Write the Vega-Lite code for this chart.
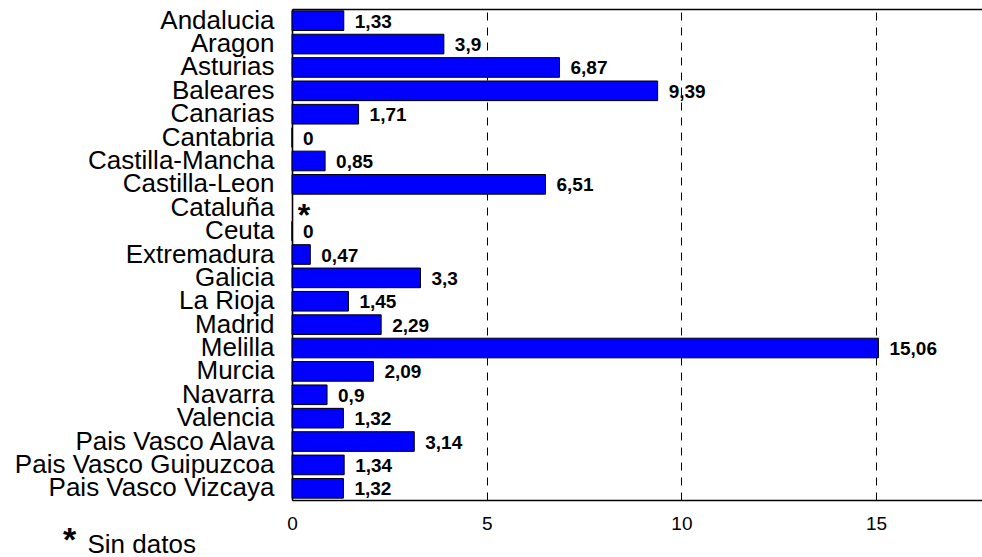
{
  "$schema": "https://vega.github.io/schema/vega-lite/v6.json",
  "width": 690,
  "height": 491,
  "autosize": {"type": "none"},
  "padding": {"left": 292, "top": 9, "right": 0, "bottom": 57},
  "background": "white",
  "config": {
    "font": "Liberation Sans",
    "locale": {"number": {"decimal": ",", "thousands": ".", "grouping": [3], "currency": ["", " €"]}},
    "view": {"stroke": null}
  },
  "data": {"values": [
    {"region": "Andalucia", "val": 1.33},
    {"region": "Aragon", "val": 3.9},
    {"region": "Asturias", "val": 6.87},
    {"region": "Baleares", "val": 9.39},
    {"region": "Canarias", "val": 1.71},
    {"region": "Cantabria", "val": 0},
    {"region": "Castilla-Mancha", "val": 0.85},
    {"region": "Castilla-Leon", "val": 6.51},
    {"region": "Cataluña", "val": null, "nota": "*"},
    {"region": "Ceuta", "val": 0},
    {"region": "Extremadura", "val": 0.47},
    {"region": "Galicia", "val": 3.3},
    {"region": "La Rioja", "val": 1.45},
    {"region": "Madrid", "val": 2.29},
    {"region": "Melilla", "val": 15.06},
    {"region": "Murcia", "val": 2.09},
    {"region": "Navarra", "val": 0.9},
    {"region": "Valencia", "val": 1.32},
    {"region": "Pais Vasco Alava", "val": 3.14},
    {"region": "Pais Vasco Guipuzcoa", "val": 1.34},
    {"region": "Pais Vasco Vizcaya", "val": 1.32}
  ]},
  "encoding": {
    "y": {
      "field": "region", "type": "nominal",
      "sort": ["Andalucia", "Aragon", "Asturias", "Baleares", "Canarias", "Cantabria", "Castilla-Mancha", "Castilla-Leon", "Cataluña", "Ceuta", "Extremadura", "Galicia", "La Rioja", "Madrid", "Melilla", "Murcia", "Navarra", "Valencia", "Pais Vasco Alava", "Pais Vasco Guipuzcoa", "Pais Vasco Vizcaya"],
      "scale": {"paddingInner": 0.16, "paddingOuter": 0.08},
      "axis": {
        "domain": true, "domainColor": "#000", "domainWidth": 1.6,
        "ticks": false, "labelFontSize": 26, "labelColor": "#000",
        "labelPadding": 18, "labelLimit": 400,
        "title": "*", "titleAngle": 0, "titleFontSize": 34, "titleFontWeight": "bold",
        "titleColor": "#000", "titleAlign": "center", "titleBaseline": "alphabetic",
        "titleX": -223, "titleY": 541
      }
    }
  },
  "layer": [
    {
      "mark": {"type": "bar", "fill": "#0000FF", "stroke": "#000000", "strokeWidth": 1},
      "transform": [{"filter": "datum.val !== null"}],
      "encoding": {
        "x": {
          "field": "val", "type": "quantitative",
          "scale": {"domain": [0, 17.72], "nice": false, "zero": true},
          "axis": {
            "orient": "bottom",
            "values": [0, 5, 10, 15], "domain": true, "domainColor": "#000", "domainWidth": 1.6, "ticks": false,
            "labelFontSize": 19, "labelColor": "#000", "labelPadding": 14, "labelFlush": false,
            "grid": true, "gridColor": "#000", "gridDash": [8, 7], "gridWidth": 1, "gridOpacity": 1,
            "title": "Sin datos", "titleFontSize": 26, "titleFontWeight": "normal", "titleColor": "#000",
            "titleAlign": "left", "titleBaseline": "alphabetic", "titleAnchor": "start",
            "titleX": -205, "titleY": 52
          }
        }
      }
    },
    {
      "mark": {"type": "text", "align": "left", "baseline": "middle", "dx": 11, "dy": 1, "fontSize": 19, "fontWeight": "bold", "color": "#000"},
      "transform": [{"filter": "datum.val !== null"}],
      "encoding": {
        "x": {
          "field": "val", "type": "quantitative",
          "axis": {"orient": "top", "labels": false, "ticks": false, "grid": false, "domain": true, "domainColor": "#000", "domainWidth": 1.6, "title": null}
        },
        "text": {"field": "val", "type": "quantitative", "format": "~g"}
      }
    },
    {
      "mark": {"type": "text", "align": "center", "baseline": "alphabetic", "dx": 12, "dy": 18, "fontSize": 32, "fontWeight": "bold", "color": "#000"},
      "transform": [{"filter": "datum.nota"}],
      "encoding": {
        "x": {"datum": 0, "type": "quantitative", "axis": null},
        "text": {"field": "nota"}
      }
    }
  ]
}
